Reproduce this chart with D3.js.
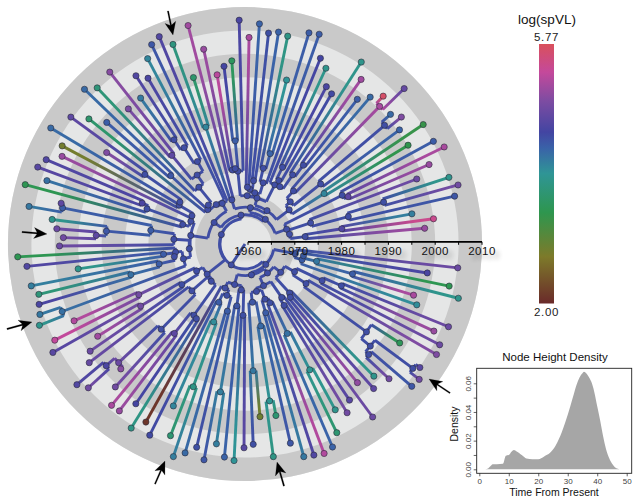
<!DOCTYPE html>
<html><head><meta charset="utf-8">
<script src="https://cdnjs.cloudflare.com/ajax/libs/d3/7.8.5/d3.min.js"></script>
<style>html,body{margin:0;padding:0;background:#fff}svg{display:block}text{font-family:"Liberation Sans",Arial,sans-serif}</style>
</head><body><svg id="c" width="639" height="503"></svg>
<script>
// ---------- data ----------
const tipYears=[1997.9,2000,1995.6,2005.3,2006.6,2005.2,1998.6,2002.2,2006.7,2005.2,2000.1,2005.2,2000.4,2002.4,2001,2006.9,2002.6,2000.6,1998.5,2002.4,2005.5,1996.4,1997.2,2000.7,2002.2,2006.9,2006.5,1995.5,2004.7,2005.2,2004.7,2006.5,
2003.5,2007.2,1998.6,1997.6,1996,2001.9,2007.6,1996.6,2004.7,2007.3,2006.4,2004.1,2000.4,2002.2,1997.7,2006.1,1997.5,2005.3,2007,1998.7,2002.1,2005.4,1994.8,2007.7,2003.7,2002.7,2005.5,2006.6,2003.8,2008,1999.6,2006.2,2000.9,1999.7,1998.2,1999,
2008,2006.2,1995.4,2005.9,2004.7,2005.2,2005.7,2006.6,1999.4,2004.9,2006.5,1996.5,1999.6,2001.2,2006.2,2004.8,1997,2000.6,2004.1,2004,2000.7,2005.6,2002.9,2005,1997.2,2003.3,2007.3,2005.8,2004,2006.3,2002.5,2005.1,2005.7,2002.9,
2002.2,1996.4,2005.2,1996.6,2003,2006.5,2006.8,2007.2,2006.6,2004.2,1999.7,2001.5,1999.5,2005.3,1997.5,2000.7,1998.8,2001.5,2006.2,2006.5,2005.1,1998.6,2006.6,2006.2,2003.8,2006.3,1998.3,1997,2006.4,2003.9,1998.8,2005.1];
const tipSpVL=[5.1,5.45,4.05,4.35,4.85,3.8,4.8,5.1,5.2,4.3,3.3,3.25,4.25,4.95,4.2,4.75,5.7,4.2,4.3,5.15,3.8,4.45,4.55,3.8,4.5,4.3,4.3,3.9,3.75,4.25,4.4,4.25,
5.2,4.55,3.45,4.5,5.3,5.1,5.15,3.55,3.7,4.6,4.35,4,4.55,4.6,4.1,5,4.9,3.65,4.2,4.3,3.55,4.7,4.95,4.2,2.75,5.1,4.6,4.65,4.15,3.35,4.7,4.1,3.8,4.8,4.85,4.8,
3.35,4.6,3.8,4.05,3.65,4.55,4.1,3.8,5.25,5.35,4.65,5.15,4.8,4.75,4.6,4.85,5,4.85,5.2,5.1,4.5,3.75,2.1,4.45,4,3.6,4.05,4.2,4.4,4.35,4.05,4.25,3.9,4.65,
4.4,2.8,3.75,3.6,4.35,4.1,4.6,5.25,4.25,3.6,3.8,4.85,4.65,4.8,5.05,4.7,3.8,4.85,4.35,4.85,4.65,3.4,4.95,4.8,5.1,4.8,3.95,5.2,3.8,3.35,4.55,4.8];

// Tree topology: "*" takes the next tip, ")year" or ")year:spVL" closes an internal node.
const cN165="(*,(*,*)1980.3:4.6)1972.3";
const cN182="((*,(*,*)1990.3:4.4)1982.2,*)1974.1";
const cQ=`((${cN165},${cN182})1969.1,((*,*)1983.6:4.7,*)1982.6)1968.8`;
const cR1="((*,*)1979.4:4.0,((*,(*,*)1998.5)1980,((*,*)2000.5:5.2,*)1974.7)1972.6)1971.3";
const cRR="((((*,*)1980.3,*)1977.3,(*,(*,*)1977.6)1974.7)1973.7,*)1973.5";
const cR3="(*,((*,*)1979.4:4.25,*)1976)1973";
const cC1="((*,*)1973,(*,*)1971.5)1971.1";
const cR6="(*,(((*,*)1981.5:4.3,*)1975.6,*)1975.4)1975";
const c50=`(${cR1},(${cRR},((${cR3},${cC1})1970.5,${cR6})1969.7)1969.5)1967.9`;
const cW="(*,(*,*)1985.7:4.0)1969.2";
const c45=`(${cQ},(${c50},${cW})1967.2)1966.2`;
const c553="(*,(*,*)1986.3)1983.7";
const c596=`(((*,${c553})1979.7,(*,*)1983.9:4.7)1977.3,*)1975`;
const c622=`((${c596},(*,*)1980.9:4.35)1970.8,*)1970.2`;
const c667=`(*,(*,${c622})1969.8)1969.3`;
const c576="((((*,*)1985.4,*)1975.9,*)1975.7,*)1972.2";
const c548="(((*,*)1983:4.55,*)1981.6:4.4,*)1973.3";
const c572=`(${c576},${c548})1971.9`;
const c521="(((*,*)1999.1:4.3,(*,(*,*)1991.2:4.7)1989.1:4.35)1979.7:4.3,*)1974.6";
const c527="(*,((*,*)1976.9:4.3,(*,(*,*)1984.6:4.15)1978.2:4.3)1974.7)1974.3";
const c550=`(${c527},(*,*)2001:4.15)1972.9`;
const c567=`(${c521},${c550})1971.3`;
const c573=`(${c572},${c567})1971.1`;
const c643=`(${c667},${c573})1967.4`;
const cA1=`(${c45},${c643})1965.6`;
const c590="((*,*)1984.5:4.85,((*,*)1985.3:4.85,*)1975.4)1971.2";
const c575a="(*,(((*,*)1998.8:4.55,*)1996.4:4.8,*)1984.9)1974.5";
const c575b="((*,*)1983.7:4.7,(*,*)1978.4)1978.1";
const c6222=`(${c590},(${c575a},${c575b})1970.1)1969.7`;
const cA=`(${cA1},${c6222})1964.8`;
const c675="(*,((*,(*,(*,*)1991.8:3.75)1977.3:3.95)1973:4.3,(*,*)1974.2:4.3)1971:4.4)1969.7";
const c724="(((*,*)1991.4:4.05,*)1972.7:4.35,(*,*)1974.6:4.4)1969.2";
const c703=`(${c675},${c724})1968.3`;
const c7="((*,*)1986.5:4.1,((*,*)1993.3:3.85,*)1977.2:4.2)1971.9:4.35";
const c44="((*,*)1974.7:4.3,(*,(*,(*,*)1989.6:3.85)1980.5:4.15)1973:4.4)1971.9";
const c41=`((${c7},${c44})1969.8,((*,*)1974.9,*)1973.2)1969.1`;
const c360="((*,*)1994.8,(*,*)2004)1993.9";
const c135=`(((${c360},*)1991.4,*)1974.9,(*,(*,*)1981.8)1977.6)1971.5`;
const c92=`(((*,*)1974.3,*)1973.5,${c135})1969.1`;
const c282=`(${c703},(${c41},${c92})1967.2)1966.1`;
const c155="(*,(((*,*)1983.2:4.3,*)1975.1:4.1,*)1972.1:4.3)1972:4.3";
const cB=`(${c282},(${c155},*)1970.3:4.35)1965.6`;
const treeShape=`(${cA},${cB})1964.7`;

const colourStops=[2,2.68,3.32,3.89,4.26,4.49,4.94,5.36,5.77];
const colourRange=["#6a2a2a","#7d7a2a","#2e964e","#2f9596","#3a62a8","#4345a2","#7d4ca2","#c4499b","#d9505c"];
const bandYears=d3.range(1960,2010,5);
const axisYears=d3.range(1960,2011,10);
const axisMinorYears=d3.range(1965,2010,10);
const densityTime=[2,3,4,4.5,6,8,9,10,11,11.7,13,14,15,16,18,20,22,24,26,28,30,32,33,34,35,35.5,36,37,38,39,40,41,42,43,44,45,46,47,48];
const densityValue=[0,.0006,.0026,.0036,.0036,.0038,.0095,.0100,.0125,.0135,.0120,.0105,.0090,.0075,.0070,.0070,.0090,.0115,.0170,.0260,.0380,.0520,.0590,.0640,.0670,.0680,.0675,.0650,.0610,.0540,.0440,.0340,.0230,.0140,.0080,.0040,.0015,.0004,0];
const densityXTicks=[0,10,20,30,40,50];
const densityYTicks=[0,.02,.04,.06];
const densityYMinor=[.01,.03,.05];

// ---------- layout ----------
const cx=245,cy=244,outerR=237,innerR=3;
const svg=d3.select("#c"),defs=svg.append("defs");
const rScale=d3.scaleLinear().domain([1960,2010]).range([innerR,outerR]);
const angleScale=d3.scaleLinear().domain([0,tipYears.length-1]).range([5,353.6]);
const colour=d3.scaleLinear().domain(colourStops).range(colourRange).interpolate(d3.interpolateRgb);
const rad=d=>d*Math.PI/180;
const px=(a,y)=>cx+rScale(y)*Math.cos(rad(a));
const py=(a,y)=>cy-rScale(y)*Math.sin(rad(a));

// parse topology
let pos=0,tipIndex=0;
function parseNode(){
  if(treeShape[pos]==="*"){pos++;const i=tipIndex++;return {tip:i,year:tipYears[i],value:tipSpVL[i]};}
  pos++;const children=[parseNode()];
  while(treeShape[pos]===","){pos++;children.push(parseNode());}
  pos++; // )
  const m=/^([0-9.]+)(?::([0-9.]+))?/.exec(treeShape.slice(pos));
  pos+=m[0].length;
  return {children,year:+m[1],value:m[2]?+m[2]:4.42};
}
const root=d3.hierarchy(parseNode());
root.eachAfter(n=>{n.angle=n.children?(n.children[0].angle+n.children[n.children.length-1].angle)/2:angleScale(n.data.tip);});

// rings
svg.append("circle").attr("cx",cx).attr("cy",cy).attr("r",outerR).attr("fill","#e5e6e6");
const ring=d3.arc().startAngle(0).endAngle(2*Math.PI);
svg.append("g").attr("transform",`translate(${cx},${cy})`).selectAll("path").data(bandYears.filter((d,i)=>i%2===1)).join("path")
  .attr("d",d=>ring({innerRadius:rScale(d),outerRadius:rScale(d+5)})).attr("fill","#c9c9c9");

// branches
const links=root.links();
links.forEach((l,i)=>{
  const a=l.target.angle;
  const g=defs.append("linearGradient").attr("id","g"+i).attr("gradientUnits","userSpaceOnUse")
    .attr("x1",px(a,l.source.data.year)).attr("y1",py(a,l.source.data.year))
    .attr("x2",px(a,l.target.data.year)).attr("y2",py(a,l.target.data.year));
  g.append("stop").attr("offset",0).attr("stop-color",colour(l.source.data.value));
  g.append("stop").attr("offset",l.target.children?1:.8).attr("stop-color",colour(l.target.data.value));
});
const marks=svg.append("g").style("filter","blur(.35px)");
const tree=marks.append("g").attr("fill","none").attr("stroke-width",2.9);
tree.selectAll("path.arc").data(root.descendants().filter(n=>n.children)).join("path").attr("class","arc")
  .attr("stroke",n=>colour(n.data.value)).attr("d",n=>{
    const p=d3.path(),a0=n.children[0].angle,a1=n.children[n.children.length-1].angle;
    p.arc(cx,cy,rScale(n.data.year),-rad(a0),-rad(a1),true);return p.toString();});
tree.selectAll("line").data(links).join("line")
  .attr("x1",l=>px(l.target.angle,l.source.data.year)).attr("y1",l=>py(l.target.angle,l.source.data.year))
  .attr("x2",l=>px(l.target.angle,l.target.data.year)+1e-3).attr("y2",l=>py(l.target.angle,l.target.data.year)+1e-3)
  .attr("stroke",(l,i)=>`url(#g${i})`);
// root stem
tree.append("line").attr("x1",cx).attr("y1",cy).attr("x2",px(root.angle,root.data.year)).attr("y2",py(root.angle,root.data.year)).attr("stroke",colour(4.4));
// nodes
marks.append("g").selectAll("circle").data(root.descendants()).join("circle")
  .attr("cx",n=>px(n.angle,n.data.year)).attr("cy",n=>py(n.angle,n.data.year)).attr("r",3.1)
  .attr("fill",n=>colour(n.data.value)).attr("stroke","#2c2c3a").attr("stroke-width",.6);

// time axis
const axisScale=d3.scaleLinear().domain([1960,2010]).range([cx+innerR,cx+outerR]);
const axisY=241.8;
const ax=svg.append("g").attr("transform",`translate(0,${axisY})`);
ax.append("line").attr("x1",axisScale(1960)).attr("x2",axisScale(2010)).attr("stroke","#000").attr("stroke-width",1.8);
ax.selectAll("line.t").data(axisYears.concat(axisMinorYears)).join("line").attr("class","t")
  .attr("x1",axisScale).attr("x2",axisScale).attr("y1",0).attr("y2",3).attr("stroke","#000").attr("stroke-width",1);
ax.selectAll("text").data(axisYears).join("text").attr("x",axisScale).attr("y",13).attr("text-anchor","middle")
  .attr("font-size",11.5).attr("fill","#111").style("letter-spacing",".5px").style("text-shadow","4px 4px 4px rgba(0,0,0,.3)").text(d=>d);

// arrows (annotation)
const arrows=[[168,11,173,35],[22,232,47,234],[7,329,32,322],[155,484,165,461],[284,486,277,462],[450,393,429,379]];
svg.append("g").selectAll("path").data(arrows).join("path").attr("fill","#000").attr("stroke","#000").attr("stroke-width",.2)
  .attr("d",([x0,y0,x1,y1])=>{
    const a=Math.atan2(y1-y0,x1-x0),ca=Math.cos(a),sa=Math.sin(a);
    const P=(u,v)=>[x1+u*ca-v*sa,y1+u*sa+v*ca].map(n=>n.toFixed(1)).join(",");
    const L=Math.hypot(x1-x0,y1-y0);
    return `M${P(0,0)}L${P(-13,5.5)}L${P(-10,.7)}L${P(-L,.7)}L${P(-L,-.7)}L${P(-10,-.7)}L${P(-13,-5.5)}Z`;
  });

// colour legend
const barX=539,barW=15,barTop=44,barBottom=303.5;
const lg=defs.append("linearGradient").attr("id","legend").attr("x1",0).attr("x2",0).attr("y1",1).attr("y2",0);
colourStops.forEach((v,i)=>lg.append("stop").attr("offset",(v-2)/3.77).attr("stop-color",colourRange[i]));
svg.append("rect").attr("x",barX).attr("y",barTop).attr("width",barW).attr("height",barBottom-barTop).attr("fill","url(#legend)");
svg.append("text").attr("x",547).attr("y",24).attr("text-anchor","middle").attr("font-size",13.5).attr("fill","#111").text("log(spVL)");
svg.append("text").attr("x",546.5).attr("y",41).attr("text-anchor","middle").attr("font-size",11.5).attr("fill","#222").style("letter-spacing",".6px").text("5.77");
svg.append("text").attr("x",546.5).attr("y",316).attr("text-anchor","middle").attr("font-size",11.5).attr("fill","#222").style("letter-spacing",".6px").text("2.00");

// density panel
const dX=d3.scaleLinear().domain([0,50]).range([479.3,626.7]);
const dY=d3.scaleLinear().domain([0,.06]).range([469.3,383.3]);
const panelL=476.7,panelR=631.7,panelT=368.3,panelB=473.3;
const rows=densityTime.map((t,i)=>[t,densityValue[i]]);
svg.append("path").datum(rows).attr("fill","#a6a6a6")
  .attr("d",d3.area().x(d=>dX(d[0])).y0(dY(0)).y1(d=>dY(d[1])).curve(d3.curveMonotoneX));
svg.append("rect").attr("x",panelL).attr("y",panelT).attr("width",panelR-panelL).attr("height",panelB-panelT).attr("fill","none").attr("stroke","#222").attr("stroke-width",.9);
const xa=svg.append("g").attr("transform",`translate(0,${panelB})`).call(d3.axisBottom(dX).tickValues(densityXTicks).tickSize(3).tickFormat(d3.format("d")));
const ya=svg.append("g").attr("transform",`translate(${panelL},0)`).call(d3.axisLeft(dY).tickValues(densityYTicks.concat(densityYMinor)).tickSize(3).tickFormat(d=>densityYTicks.includes(d)?d3.format(".2f")(d):""));
[xa,ya].forEach(g=>{g.select(".domain").remove();g.selectAll("line").attr("stroke","#222").attr("stroke-width",.7);g.selectAll("text").attr("fill","#444").attr("font-size",8).attr("font-family","Liberation Sans");});
xa.selectAll("text").attr("dy",0).attr("y",11);
ya.selectAll("text").attr("text-anchor","middle").attr("dy",0).attr("x",0).attr("y",0).attr("transform","translate(-6,0) rotate(-90)");
svg.append("text").attr("x",555).attr("y",361).attr("text-anchor","middle").attr("font-size",11.5).attr("fill","#111").text("Node Height Density");
svg.append("text").attr("x",554).attr("y",496).attr("text-anchor","middle").attr("font-size",10.5).attr("fill","#111").text("Time From Present");
svg.append("text").attr("transform","translate(458,424) rotate(-90)").attr("text-anchor","middle").attr("font-size",10.5).attr("fill","#111").text("Density");
</script>
</body></html>
